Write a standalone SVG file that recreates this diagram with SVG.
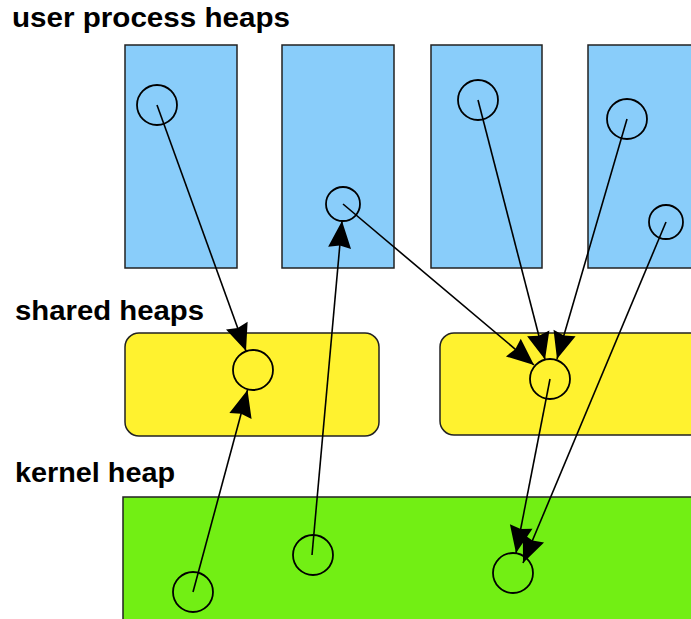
<svg xmlns="http://www.w3.org/2000/svg" width="691" height="619" viewBox="0 0 691 619">
  <style>
    .label { font-family: "Liberation Sans", Arial, sans-serif; font-weight: bold; font-size: 27px; fill: #000; }
    .user { fill: #89cdfa; stroke: #222; stroke-width: 1.5; }
    .shared { fill: #fff22f; stroke: #222; stroke-width: 1.5; }
    .kernel { fill: #72ef14; stroke: #222; stroke-width: 1.5; }
    .obj { fill: none; stroke: #000; stroke-width: 1.8; }
    .ref { fill: none; stroke: #000; stroke-width: 1.6; marker-end: url(#head); }
  </style>
  <defs>
    <marker id="head" viewBox="-29 -13 31 26" refX="0" refY="0" markerWidth="31" markerHeight="26" markerUnits="userSpaceOnUse" orient="auto">
      <path d="M0,0 L-27,-11.5 L-24.5,0 L-27,11.5 Z" fill="#000"/>
    </marker>
  </defs>
  <rect width="691" height="619" fill="#fff"/>

  <!-- section titles -->
  <text class="label" x="12" y="27" textLength="278" lengthAdjust="spacingAndGlyphs">user process heaps</text>
  <text class="label" x="15" y="320" textLength="189" lengthAdjust="spacingAndGlyphs">shared heaps</text>
  <text class="label" x="15" y="482" textLength="160" lengthAdjust="spacingAndGlyphs">kernel heap</text>

  <!-- user process heaps -->
  <g id="proc1">
    <rect class="user" x="125" y="45" width="112" height="223"/>
    <circle class="obj" cx="157" cy="105" r="20"/>
  </g>
  <g id="proc2">
    <rect class="user" x="282" y="45" width="112" height="223"/>
    <circle class="obj" cx="343" cy="204" r="17"/>
  </g>
  <g id="proc3">
    <rect class="user" x="431" y="45" width="111" height="223"/>
    <circle class="obj" cx="478" cy="100" r="20"/>
  </g>
  <g id="proc4">
    <rect class="user" x="588" y="45" width="120" height="223"/>
    <circle class="obj" cx="627" cy="119" r="20"/>
    <circle class="obj" cx="666" cy="222" r="17"/>
  </g>

  <!-- shared heaps -->
  <g id="shared1">
    <rect class="shared" x="125" y="333" width="254" height="103" rx="14" ry="14"/>
    <circle class="obj" cx="253" cy="370" r="20"/>
  </g>
  <g id="shared2">
    <rect class="shared" x="440" y="333" width="270" height="102" rx="14" ry="14"/>
    <circle class="obj" cx="550" cy="379" r="20"/>
  </g>

  <!-- kernel heap -->
  <g id="kernel">
    <rect class="kernel" x="123" y="497" width="600" height="140"/>
    <circle class="obj" cx="193" cy="592" r="20"/>
    <circle class="obj" cx="313" cy="555" r="20"/>
    <circle class="obj" cx="513" cy="573" r="20"/>
  </g>

  <!-- references between heap objects -->
  <g id="connectors">
    <line class="ref" x1="157" y1="105" x2="246" y2="351"/>
    <line class="ref" x1="193" y1="592" x2="247.5" y2="390"/>
    <line class="ref" x1="312" y1="555" x2="342" y2="221"/>
    <line class="ref" x1="343" y1="204" x2="534" y2="365"/>
    <line class="ref" x1="478" y1="100" x2="545" y2="359.5"/>
    <line class="ref" x1="627" y1="119" x2="557" y2="359"/>
    <line class="ref" x1="550" y1="379" x2="516" y2="553"/>
    <line class="ref" x1="666" y1="222" x2="523" y2="563"/>
  </g>
</svg>
